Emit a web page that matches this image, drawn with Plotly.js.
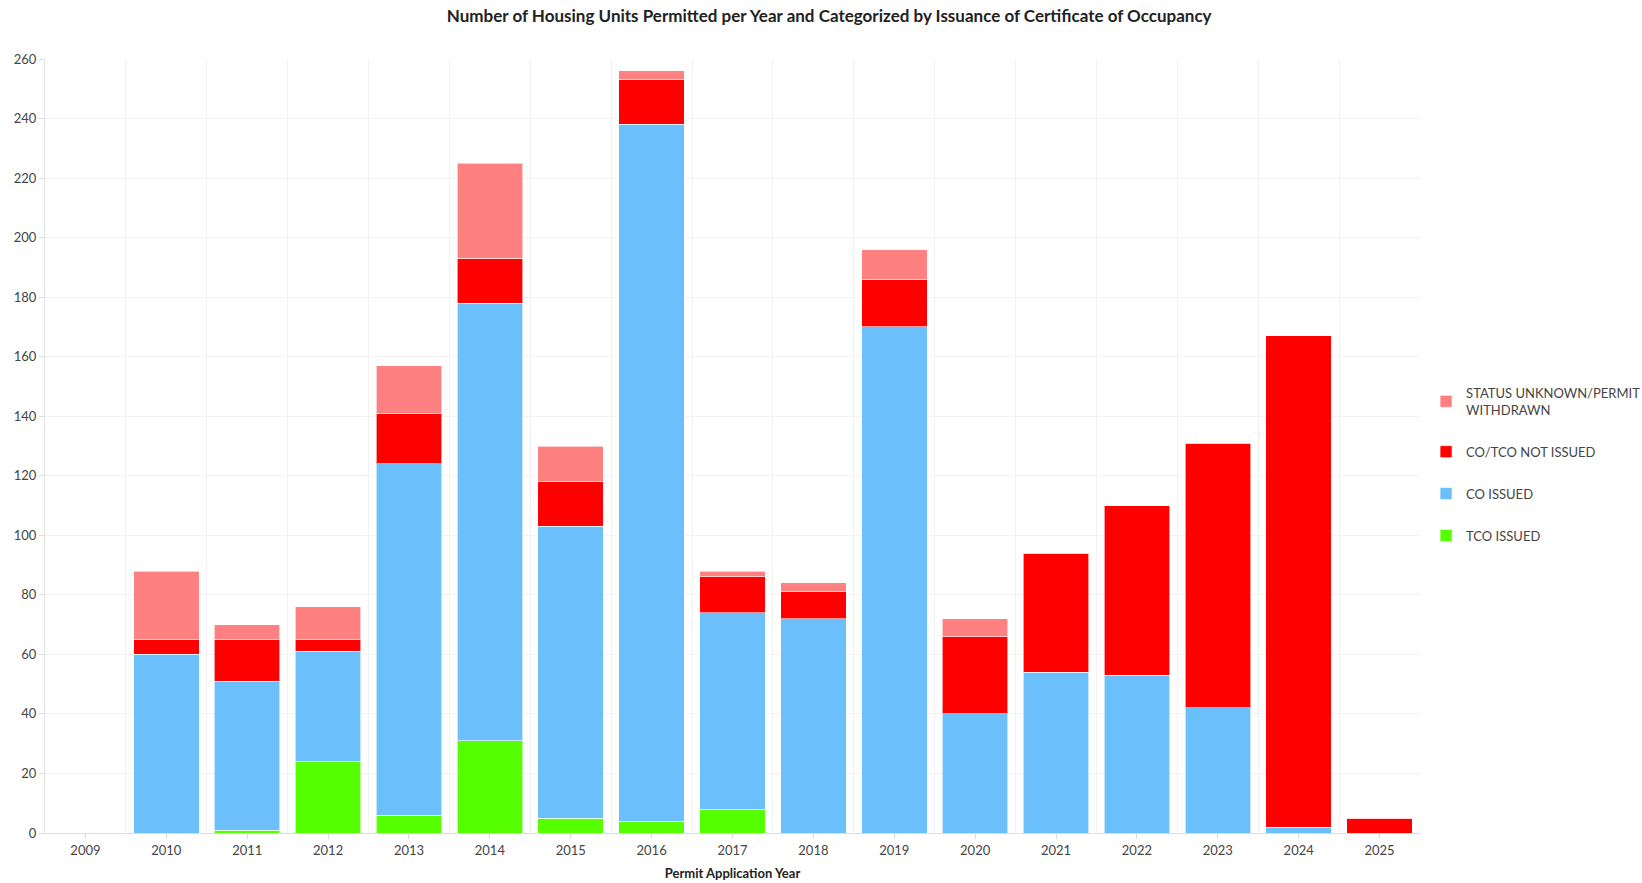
<!DOCTYPE html>
<html>
<head>
<meta charset="utf-8">
<script src="https://cdn.plot.ly/plotly-3.0.1.min.js"></script>
<style>
  html, body { margin: 0; padding: 0; background: #fff; }
  #chart { width: 1642px; height: 883px; }
</style>
</head>
<body>
<div id="chart"></div>
<script>
const years = [2009, 2010, 2011, 2012, 2013, 2014, 2015, 2016, 2017, 2018, 2019, 2020, 2021, 2022, 2023, 2024, 2025];
const tcoIssued = [0, 0, 1, 24, 6, 31, 5, 4, 8, 0, 0, 0, 0, 0, 0, 0, 0];
const coIssued = [0, 60, 50, 37, 118, 147, 98, 234, 66, 72, 170, 40, 54, 53, 42, 2, 0];
const notIssued = [0, 5, 14, 4, 17, 15, 15, 15, 12, 9, 16, 26, 40, 57, 89, 165, 5];
const unknownWithdrawn = [0, 23, 5, 11, 16, 32, 12, 3, 2, 3, 10, 6, 0, 0, 0, 0, 0];
const yTicks = [0, 20, 40, 60, 80, 100, 120, 140, 160, 180, 200, 220, 240, 260];

const FONT = 'Lato, "Open Sans", sans-serif';
const lineStyle = { color: 'rgba(255,255,255,0.6)', width: 1 };

function bar(name, values, color, group, rank) {
  return {
    type: 'bar', name: name, x: years, y: values,
    marker: { color: color, line: lineStyle },
    legendgroup: group,
    legendrank: rank,
    hoverinfo: 'x+y+name'
  };
}

const traces = [
  bar('TCO ISSUED', tcoIssued, '#55ff00', 'g1', 4),
  bar('CO ISSUED', coIssued, '#6bbffb', 'g2', 3),
  bar('CO/TCO NOT ISSUED', notIssued, '#ff0000', 'g3', 2),
  bar('STATUS UNKNOWN/PERMIT<br>WITHDRAWN', unknownWithdrawn, '#ff8080', 'g4', 1)
];

const layout = {
  width: 1642, height: 883,
  margin: { l: 45, r: 222, t: 59, b: 50 },
  paper_bgcolor: '#fff', plot_bgcolor: '#fff',
  barmode: 'stack',
  bargap: 0.19,
  font: { family: FONT, color: '#444', size: 13 },
  title: {
    text: 'Number of Housing Units Permitted per Year and Categorized by Issuance of Certificate of Occupancy',
    font: { family: FONT, size: 17, color: '#222', weight: 700 },
    x: 0.505, xanchor: 'center', y: 0.982, yanchor: 'middle'
  },
  xaxis: {
    type: 'linear',
    range: [2008.5, 2025.5],
    tickvals: years,
    ticktext: years.map(String),
    showgrid: false,
    zeroline: false,
    showline: true, linecolor: '#dddddd', linewidth: 1,
    ticks: 'outside', ticklen: 5, tickcolor: '#dddddd',
    tickfont: { family: FONT, size: 13, color: '#444' },
    minor: { tick0: 2008.5, dtick: 1, showgrid: true, gridcolor: '#f2f2f2', gridwidth: 1, ticks: '' },
    title: { text: 'Permit Application Year', font: { family: FONT, size: 13, color: '#222', weight: 700 }, standoff: 12 }
  },
  yaxis: {
    range: [0, 260],
    tickvals: yTicks,
    showgrid: true, gridcolor: '#f2f2f2', gridwidth: 1,
    zeroline: false,
    showline: true, linecolor: '#e2e2e2', linewidth: 1,
    ticks: 'outside', ticklen: 5, tickcolor: '#dddddd',
    tickfont: { family: FONT, size: 13, color: '#444' }
  },
  showlegend: true,
  legend: {
    xref: 'container', yref: 'container',
    x: 0.8685, xanchor: 'left', y: 0.572, yanchor: 'top',
    traceorder: 'grouped',
    tracegroupgap: 22,
    font: { family: FONT, size: 13, color: '#444' },
    bgcolor: 'rgba(0,0,0,0)'
  }
};

Plotly.newPlot('chart', traces, layout, { displayModeBar: false, responsive: false });
</script>
</body>
</html>
